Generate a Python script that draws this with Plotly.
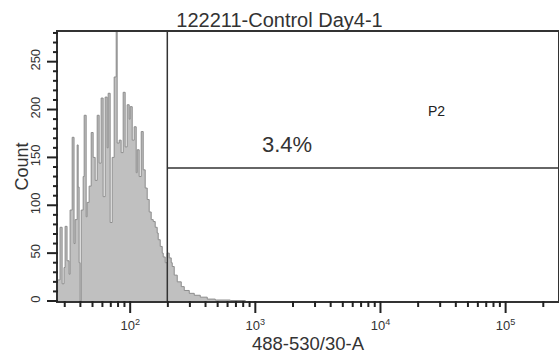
import math
import plotly.graph_objects as go

# ---- data ----
bin_x = [26.5, 27.5, 28.6, 29.6, 30.2, 31.3, 32.5, 33.1, 34.4, 35.6, 36.3, 37.7, 38.4, 39.1,
         39.8, 40.6, 42.1, 42.9, 44.5, 45.3, 47.0, 48.8, 50.6, 52.5, 54.5, 56.5, 58.6, 60.8,
         63.1, 65.5, 66.7, 69.2, 71.8, 74.5, 77.3, 78.7, 81.7, 84.7, 87.9, 91.2, 94.6, 98.2,
         100.0, 103.8, 107.6, 111.7, 113.8, 118.0, 122.5, 127.1, 131.8, 136.8, 141.9, 147.2,
         152.8, 158.5, 164.4, 167.5, 173.8, 180.3, 183.7, 190.5, 197.7, 205.1, 212.8, 216.8,
         224.9, 237.7, 255.9, 270.4, 296.5, 325.1, 363.1, 413.0, 478.6, 631.0, 831.8]
counts = [22, 77, 18, 35, 78, 42, 28, 95, 171, 60, 85, 163, 119, 40,
          0, 95, 130, 194, 88, 103, 120, 176, 150, 126, 194, 144, 212, 109,
          213, 160, 217, 82, 150, 234, 300, 165, 168, 155, 218, 161, 205, 190,
          203, 168, 182, 134, 158, 130, 177, 137, 118, 106, 93, 85,
          83, 77, 71, 64, 57, 50, 46, 40, 50, 45, 40, 36,
          27, 20, 15, 11, 8, 6, 4, 2, 1, 0.5, 0]

gate_x = 198          # P2 lower bound
gate_y = 139          # P2 lower count bound
x_max = 262144
x_min = 26.5
y_max = 281

title_text = "122211-Control Day4-1"
x_title = "488-530/30-A"
y_title = "Count"
gate_name = "P2"
gate_pct = "3.4%"

x_tickvals = [100, 1000, 10000, 100000]
x_ticktext = ["10<sup>2</sup>", "10<sup>3</sup>", "10<sup>4</sup>", "10<sup>5</sup>"]
y_tickvals = [0, 50, 100, 150, 200, 250]
x_minor = [m * 10 ** d for d in range(1, 6) for m in range(2, 10) if x_min < m * 10 ** d < x_max]
y_minor = [v for v in range(0, 281, 10) if v % 50]

FONT = "Liberation Sans, Arial, sans-serif"
AX = "#333333"
TK = "#222222"
XR = [math.log10(x_min), math.log10(x_max)]
W, H = 559, 360
ML, MR, MT, MB = 58, 1, 32, 59
PW, PH = W - ML - MR, H - MT - MB

fig = go.Figure()
fig.add_trace(go.Scatter(
    x=bin_x, y=counts, mode="lines", line=dict(shape="hv", color="#8c8c8c", width=1),
    fill="tozeroy", fillcolor="#c0c0c0", hoverinfo="skip", showlegend=False))
# gate lines
fig.add_trace(go.Scatter(x=[gate_x, gate_x], y=[0, y_max], mode="lines",
                         line=dict(color=AX, width=1.5), showlegend=False, hoverinfo="skip"))
fig.add_trace(go.Scatter(x=[gate_x, x_max], y=[gate_y, gate_y], mode="lines",
                         line=dict(color=AX, width=1.5), showlegend=False, hoverinfo="skip"))


def xpaper(v):
    return (math.log10(v) - XR[0]) / (XR[1] - XR[0])


# tick marks (drawn as paper shapes)
shapes = []
for v, ln in [(t, 12) for t in x_tickvals] + [(t, 6) for t in x_minor]:
    px = xpaper(v)
    shapes.append(dict(type="line", xref="paper", yref="paper", x0=px, x1=px,
                       y0=0, y1=-ln / PH, line=dict(color=TK, width=2), layer="above"))
for v, ln in [(t, 11) for t in y_tickvals] + [(t, 5) for t in y_minor]:
    py = v / y_max
    shapes.append(dict(type="line", xref="paper", yref="paper", x0=0, x1=-ln / PW,
                       y0=py, y1=py, line=dict(color=TK, width=2), layer="above"))

fig.add_annotation(x=math.log10(1800), y=164, text=gate_pct, showarrow=False,
                   font=dict(family=FONT, size=22, color="#333333"))
fig.add_annotation(x=math.log10(28000), y=198, text=gate_name, showarrow=False,
                   font=dict(family=FONT, size=14, color="#222222"))
fig.add_annotation(xref="paper", yref="paper", x=(21 - ML) / PW, y=0.5,
                   xanchor="center", yanchor="middle",
                   text=y_title, textangle=-90, showarrow=False,
                   font=dict(family=FONT, size=18, color="#333333"))

fig.update_layout(
    template="none",
    width=W, height=H,
    margin=dict(l=ML, r=MR, t=MT, b=MB),
    paper_bgcolor="white", plot_bgcolor="white",
    font=dict(family=FONT, color="#333333"),
    shapes=shapes,
    title=dict(text=title_text, x=0.5, xanchor="center", y=1 - 20 / H, yanchor="middle",
               font=dict(family=FONT, size=20, color="#333333")),
    xaxis=dict(
        type="log", range=XR,
        showline=True, linecolor=AX, linewidth=1.5, mirror=True,
        showgrid=False, zeroline=False,
        ticks="outside", ticklen=12, tickcolor="rgba(0,0,0,0)",
        tickmode="array", tickvals=x_tickvals, ticktext=x_ticktext, tickfont=dict(size=13),
        title=dict(text=x_title, font=dict(size=18.5), standoff=4),
    ),
    yaxis=dict(
        range=[0, y_max],
        showline=True, linecolor=AX, linewidth=1.5, mirror=True,
        showgrid=False, zeroline=False,
        ticks="outside", ticklen=11, tickcolor="rgba(0,0,0,0)",
        tickmode="array", tickvals=y_tickvals, tickangle=-90, tickfont=dict(size=13),
    ),
)

fig.write_html("out.html")
